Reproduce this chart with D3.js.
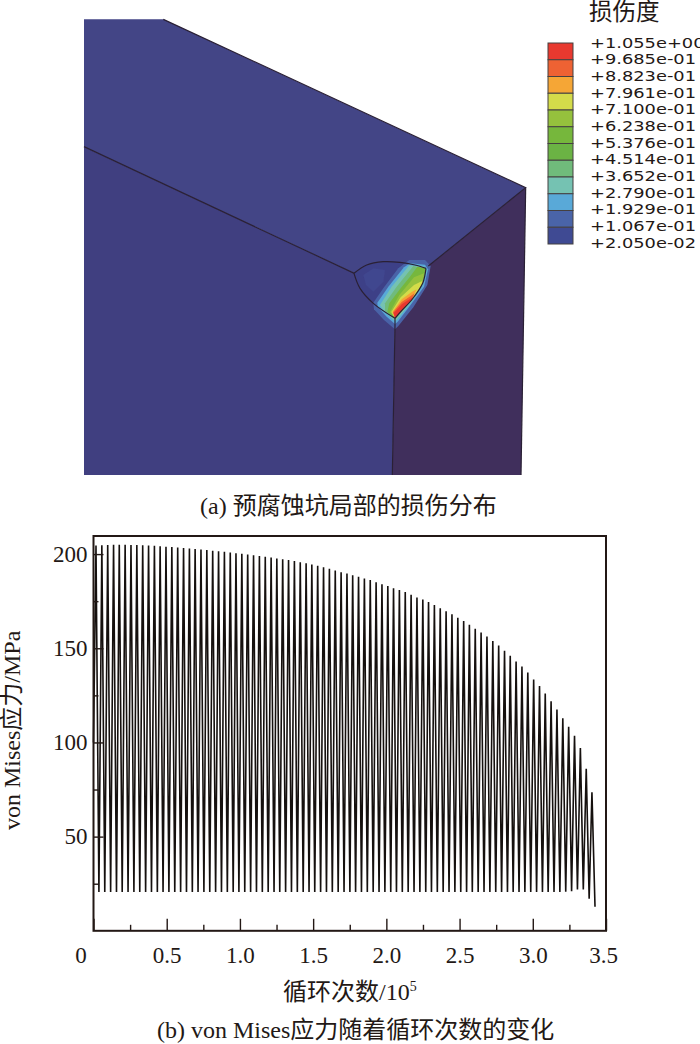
<!DOCTYPE html>
<html>
<head>
<meta charset="utf-8">
<script src="https://cdnjs.cloudflare.com/ajax/libs/d3/7.8.5/d3.min.js"></script>
<style>
    html, body { margin: 0; padding: 0; background: #fff; }
    svg { display: block; }
    text { font-family: "Liberation Serif", "Noto Sans CJK SC", serif; fill: #231815; }
    .legend-label { font-family: "DejaVu Sans", sans-serif; }
    .tick text { font-family: "Liberation Serif", serif; }
</style>
</head>
<body>
<svg id="chart" width="700" height="1044"></svg>
<script>
// panel (b): peak and valley of every load cycle
const peakCycles = [0.017,0.057,0.097,0.137,0.176,0.216,0.256,0.296,0.336,0.376,0.416,0.455,0.495,0.535,0.575,0.615,0.655,0.694,0.734,0.774,0.814,0.854,0.894,0.934,0.973,1.013,1.053,1.093,1.133,1.173,1.213,1.252,1.292,1.332,1.372,1.412,1.452,1.491,1.531,1.571,1.611,1.651,1.691,1.731,1.770,1.810,1.850,1.890,1.930,1.970,2.010,2.049,2.089,2.129,2.169,2.209,2.249,2.288,2.328,2.368,2.408,2.448,2.488,2.528,2.567,2.607,2.647,2.687,2.727,2.767,2.807,2.846,2.886,2.926,2.966,3.006,3.046,3.085,3.125,3.165,3.205,3.245,3.285,3.325,3.365,3.404];
const peakStress = [204.5,204.7,204.8,204.9,204.9,204.9,204.8,204.8,204.7,204.6,204.4,204.2,203.9,203.7,203.5,203.2,202.9,202.7,202.4,202.1,201.8,201.5,201.2,200.8,200.5,200.2,199.8,199.4,199,198.6,198.2,197.7,197.2,196.8,196.3,195.7,195.1,194.5,193.8,193,192.2,191.3,190.3,189.7,188.8,187.9,187,186.2,185.1,184,183,181.9,180.9,179.8,178.4,177,175.9,174.5,172.9,171.3,169.7,168,166.2,164.5,162.5,160.4,158.3,156.3,153.8,151.4,148.7,146,143,140.3,137.1,133.4,130,126,121.9,117.5,112.9,108.3,103.5,97,86,73.5];
const valleyCycles = [0.037,0.077,0.117,0.157,0.196,0.236,0.276,0.316,0.356,0.396,0.436,0.475,0.515,0.555,0.595,0.635,0.675,0.714,0.754,0.794,0.834,0.874,0.914,0.954,0.993,1.033,1.073,1.113,1.153,1.193,1.233,1.272,1.312,1.352,1.392,1.432,1.472,1.511,1.551,1.591,1.631,1.671,1.711,1.751,1.790,1.830,1.870,1.910,1.950,1.990,2.030,2.069,2.109,2.149,2.189,2.229,2.269,2.308,2.348,2.388,2.428,2.468,2.508,2.548,2.587,2.627,2.667,2.707,2.747,2.787,2.827,2.866,2.906,2.946,2.986,3.026,3.066,3.105,3.145,3.185,3.225,3.265,3.305,3.345,3.385,3.425];
const valleyStress = [20.6,20.6,20.6,20.6,20.6,20.6,20.6,20.6,20.6,20.6,20.6,20.6,20.6,20.6,20.6,20.6,20.6,20.6,20.6,20.6,20.6,20.6,20.6,20.6,20.6,20.6,20.6,20.6,20.6,20.6,20.6,20.6,20.6,20.6,20.6,20.6,20.6,20.6,20.6,20.6,20.6,20.6,20.6,20.6,20.6,20.6,20.6,20.6,20.6,20.6,20.6,20.6,20.6,20.6,20.6,20.6,20.6,20.6,20.6,20.6,20.6,20.6,20.6,20.6,20.6,20.6,20.6,20.6,20.6,20.6,20.6,20.6,20.6,20.6,20.6,20.6,20.6,20.6,20.6,20.6,20.8,21,22,22,17,12.8];
const xMajorTicks = [0, 0.5, 1.0, 1.5, 2.0, 2.5, 3.0, 3.5];
const xMinorTicks = [0.25, 0.75, 1.25, 1.75, 2.25, 2.75, 3.25];
const yMajorTicks = [50, 100, 150, 200];
const yMinorTicks = [25, 75, 125, 175];

// panel (a): legend of the damage contour
const legendValues = ['+1.055e+00','+9.685e-01','+8.823e-01','+7.961e-01','+7.100e-01','+6.238e-01','+5.376e-01','+4.514e-01','+3.652e-01','+2.790e-01','+1.929e-01','+1.067e-01','+2.050e-02'];
const legendColors = ['#e8392f','#ee6233','#f5a636','#d4dc4a','#95c13d','#76b73c','#6bb344','#70bb7b','#75c2b2','#59a9d8','#4a64a8','#3f4a93'];

// model faces and edges, in units of the sketch grid
const topFace = [[42,28],[280,28],[1367,533],[1075,768],[853,790],[42,410]];
const leftFace = [[42,410],[853,790],[975,945],[967,1395],[42,1395]];
const rightFace = [[1367,533],[1353,1395],[967,1395],[975,925],[1075,768]];
const modelEdges = [
    [[280,28],[1367,533],[1075,768]],
    [[42,410],[853,790]],
    [[975,925],[975,945],[967,1395]],
    [[1367,533],[1353,1395]]
];

// pit close-up, finer grid
const lensOutline = [[72,100],[110,75],[160,65],[210,67],[255,75],[288,85],[278,130],[245,180],[215,212],[195,235],[130,190],[90,145]];
const lensEdgeTop = [[72,100],[110,75],[160,65],[210,67],[255,75],[288,85]];
const lensEdgeInner = [[288,85],[278,130],[245,180],[215,212],[195,235]];
const lensEdgeLower = [[72,100],[90,145],[130,190],[195,235]];
const lensPatch = [[100,105],[130,85],[165,90],[160,125],[130,155],[108,135]];
const pitBands = [
    {color: '#4a64a8', points: [[205,85],[238,60],[285,60],[302,78],[292,135],[250,202],[205,258],[195,268],[162,240],[132,208],[130,188],[160,145]]},
    {color: '#59a9d8', points: [[222,82],[240,70],[285,74],[294,88],[282,140],[240,197],[203,245],[195,252],[170,230],[143,200],[142,188],[175,140]]},
    {color: '#75c2b2', points: [[238,76],[285,80],[290,92],[278,135],[242,190],[200,240],[195,244],[160,212],[150,195],[185,140]]},
    {color: '#70bb7b', points: [[250,78],[288,85],[278,130],[245,180],[198,236],[193,236],[165,212],[165,190],[200,140]]},
    {color: '#76b73c', points: [[262,80],[288,85],[278,130],[245,180],[215,212],[195,235],[172,216],[178,190],[212,145],[240,110]]},
    {color: '#95c13d', points: [[282,100],[278,130],[245,180],[215,212],[195,235],[180,216],[208,165],[252,112]]},
    {color: '#d4dc4a', points: [[278,122],[278,130],[245,180],[215,212],[195,235],[184,216],[212,172],[252,135]]},
    {color: '#f5a636', points: [[260,148],[245,180],[215,212],[195,235],[187,216],[215,178],[246,155]]},
    {color: '#ee6233', points: [[254,160],[245,180],[215,212],[195,235],[189,217],[215,186],[242,168]]},
    {color: '#e8392f', points: [[248,172],[245,180],[215,212],[195,235],[191,219],[216,192]]}
];

const svg = d3.select('#chart');

// ---- panel (a) ----
const modelX = d3.scaleLinear().domain([0, 1410]).range([70, 540]);
const modelY = d3.scaleLinear().domain([0, 1440]).range([10, 490]);
const pitX = d3.scaleLinear().domain([0, 390]).range([330, 460]);
const pitY = d3.scaleLinear().domain([0, 330]).range([240, 350]);
const modelLine = d3.line().x(d => modelX(d[0])).y(d => modelY(d[1]));
const pitLine = d3.line().x(d => pitX(d[0])).y(d => pitY(d[1]));
const pitCurve = d3.line().x(d => pitX(d[0])).y(d => pitY(d[1])).curve(d3.curveCatmullRom);

const defs = svg.append('defs');
defs.append('filter').attr('id', 'soft')
    .append('feGaussianBlur').attr('stdDeviation', 0.6);

svg.append('path').attr('d', modelLine(topFace) + 'Z').attr('fill', '#434586');
svg.append('path').attr('d', modelLine(leftFace) + 'Z').attr('fill', '#403f80');
svg.append('path').attr('d', modelLine(rightFace) + 'Z').attr('fill', '#402f5c');
svg.append('path').attr('d', pitLine(lensOutline) + 'Z').attr('fill', '#3d4087');

const pit = svg.append('g').attr('filter', 'url(#soft)');
pit.append('path').attr('d', pitLine(lensPatch) + 'Z').attr('fill', '#40468f');
pit.selectAll('path.band')
    .data(pitBands)
    .join('path')
    .attr('class', 'band')
    .attr('d', d => pitLine(d.points) + 'Z')
    .attr('fill', d => d.color);

svg.selectAll('path.edge')
    .data(modelEdges)
    .join('path')
    .attr('class', 'edge')
    .attr('d', modelLine)
    .attr('fill', 'none')
    .attr('stroke', '#2a2035')
    .attr('stroke-width', 1.2);

[lensEdgeTop, lensEdgeInner, lensEdgeLower].forEach(function(edge) {
    svg.append('path')
        .attr('d', pitCurve(edge))
        .attr('fill', 'none')
        .attr('stroke', '#2a2035')
        .attr('stroke-width', 1.2);
});

// legend
const legendY = d3.scaleBand().domain(legendColors).range([43, 244]);
svg.selectAll('rect.swatch')
    .data(legendColors)
    .join('rect')
    .attr('class', 'swatch')
    .attr('x', 548).attr('width', 25)
    .attr('y', d => legendY(d)).attr('height', legendY.bandwidth())
    .attr('fill', d => d)
    .attr('stroke', '#454040')
    .attr('stroke-width', 1);

const labelY = d3.scalePoint().domain(legendValues).range([42, 242]);
svg.selectAll('text.legend-label')
    .data(legendValues)
    .join('text')
    .attr('class', 'legend-label')
    .attr('transform', d => `translate(590,${labelY(d) + 5.5}) scale(1.255,1)`)
    .attr('font-size', 14.2)
    .text(d => d);

svg.append('text').attr('x', 589).attr('y', 20).attr('font-size', 23.5)
    .style('font-family', '"Noto Sans CJK SC"').text('损伤度');

svg.append('text').attr('x', 200).attr('y', 514).attr('font-size', 24)
    .text('(a) 预腐蚀坑局部的损伤分布');

// ---- panel (b) ----
const x = d3.scaleLinear().domain([0, 3.5]).range([93.5, 606]);
const y = d3.scaleLinear().domain([0, 209.6]).range([930.8, 536]);

const cycles = [[0, 100]];
peakCycles.forEach(function(c, i) {
    cycles.push([c, peakStress[i]]);
    cycles.push([valleyCycles[i], valleyStress[i]]);
});

svg.append('path')
    .attr('d', d3.line().x(d => x(d[0])).y(d => y(d[1]))(cycles))
    .attr('fill', 'none')
    .attr('stroke', '#15100e')
    .attr('stroke-width', 1.6);

const xAxis = svg.append('g').attr('transform', 'translate(0,930.8)')
    .call(d3.axisBottom(x).tickValues(xMajorTicks).tickSizeInner(-12).tickSizeOuter(0)
        .tickPadding(16).tickFormat(d => d === 0 ? '0' : d3.format('.1f')(d)));
svg.append('g').attr('transform', 'translate(0,930.8)')
    .call(d3.axisBottom(x).tickValues(xMinorTicks).tickSizeInner(-6).tickSizeOuter(0).tickFormat(''));
const yAxis = svg.append('g').attr('transform', 'translate(93.5,0)')
    .call(d3.axisLeft(y).tickValues(yMajorTicks).tickSizeInner(-10).tickSizeOuter(0).tickPadding(6));
svg.append('g').attr('transform', 'translate(93.5,0)')
    .call(d3.axisLeft(y).tickValues(yMinorTicks).tickSizeInner(-5).tickSizeOuter(0).tickFormat(''));

svg.selectAll('.domain').remove();
svg.selectAll('.tick line').attr('stroke', '#231815').attr('stroke-width', 1.4);
svg.selectAll('.tick text').attr('font-size', 23).attr('fill', '#231815');
xAxis.selectAll('.tick text').filter(d => d === 0).attr('dx', -13);
xAxis.selectAll('.tick text').filter(d => d === 3.5).attr('dx', -3);

svg.append('rect')
    .attr('x', x(0)).attr('y', y(209.6))
    .attr('width', x(3.5) - x(0)).attr('height', y(0) - y(209.6))
    .attr('fill', 'none').attr('stroke', '#231815').attr('stroke-width', 2);

svg.append('text')
    .attr('transform', 'translate(20,830) rotate(-90)')
    .attr('font-size', 24)
    .text('von Mises应力/MPa');

const xLabel = svg.append('text').attr('x', 283).attr('y', 1000).attr('font-size', 24);
xLabel.append('tspan').text('循环次数/10');
xLabel.append('tspan').attr('dy', -9).attr('font-size', 14).text('5');

svg.append('text').attr('x', 157).attr('y', 1038).attr('font-size', 24)
    .text('(b) von Mises应力随着循环次数的变化');
</script>
</body>
</html>
